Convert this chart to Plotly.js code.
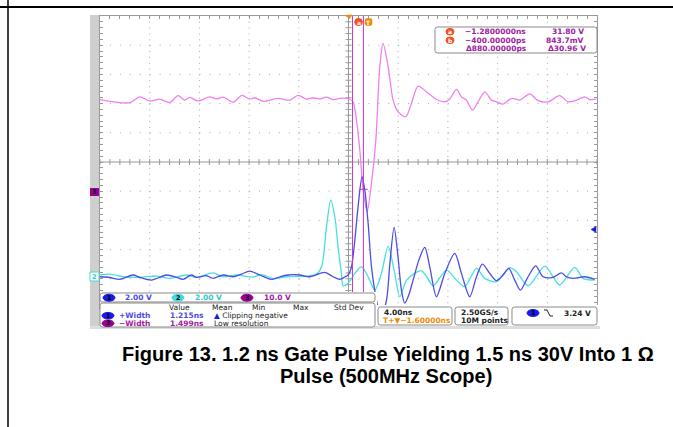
<!DOCTYPE html>
<html><head><meta charset="utf-8">
<script src="https://cdn.plot.ly/plotly-3.0.1.min.js"></script>
<style>html,body{margin:0;padding:0;background:#fff;}#chart{width:673px;height:427px;}</style>
</head><body><div id="chart"></div>
<script>
// ---- data (time in ns relative to trigger, volts) ----
const ch3_t = [-21.62,-19.21,-18.40,-17.59,-16.79,-15.98,-15.32,-14.78,-14.38,-13.71,-12.77,-12.23,-11.69,-10.89,-10.17,-9.55,-9.14,-8.47,-7.26,-6.33,-5.66,-4.98,-4.45,-3.91,-3.37,-2.84,-2.30,-2.04,-1.50,-1.23,-0.96,-0.69,-0.43,-0.10,0.25,0.60,0.92,1.18,1.59,1.99,2.39,3.01,3.47,4.00,4.68,5.48,6.15,6.55,7.09,7.49,7.89,8.38,8.83,9.37,9.91,10.31,10.84,11.52,12.19,12.99,13.66,14.46,15.40,16.07,16.75,17.42,17.82,18.36];
const ch3_v = [31.6,30.5,32.5,31.1,31.7,30.6,32.9,31.4,32.3,31.1,32.5,31.8,32.4,30.7,33.0,31.7,32.2,31.0,32.0,31.4,33.0,31.7,32.2,31.8,32.4,31.6,32.0,32.1,31.7,30.8,24.6,14.3,0.9,-6.8,3.0,17.7,42.8,50.8,42.8,31.4,27.4,25.7,30.3,36.2,34.2,31.6,30.8,31.8,35.1,32.5,31.4,28.0,30.8,34.2,31.4,30.8,30.0,32.0,31.4,33.5,31.2,30.8,32.9,30.8,31.4,32.5,31.6,31.7];
const ch1_t = [-21.62,-20.82,-20.01,-18.94,-18.40,-17.46,-16.25,-15.44,-14.91,-14.24,-13.84,-13.03,-12.50,-11.69,-10.89,-10.21,-9.55,-8.74,-7.80,-7.13,-6.46,-5.52,-4.72,-3.51,-2.84,-2.30,-1.90,-1.63,-1.36,-1.09,-0.83,-0.51,-0.29,-0.02,0.25,0.65,1.00,1.46,1.72,2.07,2.37,2.66,2.93,3.25,3.60,4.06,4.54,4.94,5.48,6.15,6.95,7.49,8.16,8.70,9.18,9.77,10.31,10.84,11.30,11.78,12.24,12.85,13.47,14.06,14.86,15.54,15.94,16.48,17.42,18.22];
const ch1_v = [0,-0.05,-0.18,0.12,-0.04,-0.23,0.12,-0.04,-0.18,0.12,-0.04,0.07,-0.11,0.12,0,0.18,0.39,0.12,-0.18,0,0.12,0.12,0,0.30,0,-0.18,-0.02,0.12,0.68,2.51,4.79,6.85,5.94,3.66,0.68,-1.60,-2.83,-1.60,0.80,3.38,1.49,-0.91,-1.80,-1.25,-0.23,1.14,2.01,0.68,-1.37,0.23,1.60,0.23,-1.37,0,0.87,0.23,-0.27,0.12,0.58,-0.23,-0.91,0,0.75,0,-0.04,0.27,0,-0.11,0,-0.18];
const ch2_t = [-21.62,-20.82,-19.74,-18.40,-17.06,-15.98,-14.64,-13.84,-12.50,-11.69,-10.62,-9.28,-8.60,-7.67,-6.60,-4.98,-4.18,-3.77,-3.37,-3.03,-2.70,-2.44,-2.17,-2.04,-1.63,-1.09,-0.56,-0.02,0.52,1.05,1.59,2.12,2.53,3.07,3.73,4.27,4.70,5.21,6.29,7.09,7.76,8.70,9.37,10.31,11.38,11.92,12.85,14.20,14.86,15.40,16.61,17.28,18.22];
const ch2_v = [0.12,0.18,0,-0.04,0.05,-0.11,0.12,-0.04,0.27,0,0.12,-0.02,0.14,-0.11,0,0.05,0.18,0.68,3.42,5.25,4.11,2.05,0.23,-0.62,-0.45,0.23,0.68,0,-0.91,0.23,2.10,0.23,-1.37,-0.23,0.23,0.41,0,-0.62,0.46,-0.23,-0.68,0.58,-0.11,-0.34,0.62,0.34,-0.62,0.73,0,-0.57,0.64,-0.11,-0.23];
// channel settings (V/div, position in div)
const ch1_scale = 2.0, ch1_pos = -3.93;
const ch2_scale = 2.0, ch2_pos = -3.93;
const ch3_scale = 10.0, ch3_pos = -1.02;
const cursor_a = -1.28, cursor_b = -0.40;
const h_pos = -1.6, ns_div = 4.0;
const titleLines = ["Figure 13. 1.2 ns Gate Pulse Yielding 1.5 ns 30V Into 1 Ω", "Pulse (500MHz Scope)"];

// ---- geometry ----
const W=673,H=427, X0=100, X1=597, Y0=16, Y1=308;
const px = x => (x-X0)/(X1-X0);
const py = y => (Y1-y)/(Y1-Y0);
const xmin = h_pos-5*ns_div, xmax = h_pos+5*ns_div;
const toDiv = (arr, s, p) => arr.map(v => v/s + p);

const C1='#4c4ce6', C2='#45e0e0', C3='#f07ef0', CUR='#cc33cc', PURP='#a020a0', GRID='#a8a8a8', ORG='#f08a00', RED='#f05020';

const traces = [
 {x:ch3_t, y:toDiv(ch3_v,ch3_scale,ch3_pos), mode:'lines', line:{color:C3,width:1.3,shape:'spline',smoothing:0.8}, hoverinfo:'skip'},
 {x:ch2_t, y:toDiv(ch2_v,ch2_scale,ch2_pos), mode:'lines', line:{color:C2,width:1.3,shape:'spline',smoothing:0.8}, hoverinfo:'skip'},
 {x:ch1_t, y:toDiv(ch1_v,ch1_scale,ch1_pos), mode:'lines', line:{color:C1,width:1.3,shape:'spline',smoothing:0.8}, hoverinfo:'skip'}
];

const shapes = [];
const annos = [];
// grid dotted lines
for (let k=-4;k<=4;k++){ if(k===0) continue;
  const xv = h_pos + k*ns_div;
  shapes.push({type:'line',xref:'x',yref:'y',x0:xv,x1:xv,y0:5,y1:-5,line:{color:GRID,width:1,dash:'1px,4.84px'},layer:'below'});
  shapes.push({type:'line',xref:'x',yref:'y',x0:xmin,x1:xmax,y0:k,y1:k,line:{color:GRID,width:1,dash:'1px,8.94px'},layer:'below'});
}
// center lines
shapes.push({type:'line',xref:'x',yref:'y',x0:h_pos,x1:h_pos,y0:-5,y1:5,line:{color:'#999',width:1},layer:'below'});
shapes.push({type:'line',xref:'x',yref:'y',x0:xmin,x1:xmax,y0:0,y1:0,line:{color:'#999',width:1},layer:'below'});
const tpx = ns_div/ (X1-X0) * 10; // ns per px
const dpy = 10/(Y1-Y0); // div per px
for (let i=-25;i<=25;i++){ const yv=i*0.2;
  shapes.push({type:'line',xref:'x',yref:'y',x0:h_pos-3*tpx,x1:h_pos+3*tpx,y0:yv,y1:yv,line:{color:'#999',width:1},layer:'below'});
}
for (let i=-25;i<=25;i++){ const xv=h_pos+i*0.8;
  shapes.push({type:'line',xref:'x',yref:'y',x0:xv,x1:xv,y0:-3*dpy,y1:3*dpy,line:{color:'#999',width:1},layer:'below'});
}
// cursors
[cursor_a,cursor_b].forEach(c=>shapes.push({type:'line',xref:'x',yref:'paper',x0:c,x1:c,y0:py(293),y1:1,line:{color:CUR,width:1}}));
// cursor b level mark
shapes.push({type:'line',xref:'x',yref:'y',x0:cursor_b-0.35,x1:cursor_b+0.35,y0:0.0844+ch3_pos,y1:0.0844+ch3_pos,line:{color:CUR,width:1}});

// left gray strip
shapes.push({type:'rect',xref:'paper',yref:'paper',x0:px(90),x1:px(100),y0:py(329),y1:py(15),fillcolor:'#cfcfcf',line:{width:0},layer:'below'});
// page frame
shapes.push({type:'line',xref:'paper',yref:'paper',x0:px(0),x1:px(673),y0:py(7),y1:py(7),line:{color:'#000',width:2}});
shapes.push({type:'line',xref:'paper',yref:'paper',x0:px(8),x1:px(8),y0:py(0),y1:py(427),line:{color:'#000',width:1.5}});

function rr(x0,y0,x1,y1,r){ // rounded rect in pixel coords -> paper path
  const P=(x,y)=>px(x).toFixed(5)+','+py(y).toFixed(5);
  return 'M'+P(x0+r,y0)+' L'+P(x1-r,y0)+' Q'+P(x1,y0)+' '+P(x1,y0+r)+' L'+P(x1,y1-r)+' Q'+P(x1,y1)+' '+P(x1-r,y1)+
   ' L'+P(x0+r,y1)+' Q'+P(x0,y1)+' '+P(x0,y1-r)+' L'+P(x0,y0+r)+' Q'+P(x0,y0)+' '+P(x0+r,y0)+' Z';
}
function box(x0,y0,x1,y1,fill){ shapes.push({type:'path',xref:'paper',yref:'paper',path:rr(x0,y0,x1,y1,2.5),fillcolor:fill||'#fff',line:{color:'#8a8a8a',width:1}}); }
function rect(x0,y0,x1,y1,fill){ shapes.push({type:'rect',xref:'paper',yref:'paper',x0:px(x0),x1:px(x1),y0:py(y1),y1:py(y0),fillcolor:fill,line:{width:0}}); }
function oval(cx,cy,rx,ry,fill,stroke){ shapes.push({type:'circle',xref:'paper',yref:'paper',x0:px(cx-rx),x1:px(cx+rx),y0:py(cy+ry),y1:py(cy-ry),fillcolor:fill,line:{color:stroke||fill,width:1}}); }
function txt(x,y,t,color,anchor,size,fam){ annos.push({xref:'paper',yref:'paper',x:px(x),y:py(y),text:t,showarrow:false,xanchor:anchor||'left',yanchor:'middle',font:{family:fam||'DejaVu Sans, sans-serif',size:size||7.5,color:color||'#222'}}); }

// bottom readout area
rect(100,292,377,329,'#ffffff');
rect(373,305,600,329,'#ffffff');
rect(90,326,600,329,'#dedede');
box(100,293,375,302);
box(100,303,375,327);
box(378,307,452,325);
box(455,307,508,325);
box(512,307,597,325);
// row 1
oval(109,297.7,6,3.5,'#1a1ae6'); txt(109,297.8,'<b>1</b>','#000','center',6.5);
txt(123,297.8,'<b>2.00 V</b>',C1);
oval(178,297.7,6,3.5,'#3fdcdc'); txt(178,297.8,'<b>2</b>','#000','center',6.5);
txt(193,297.8,'<b>2.00 V</b>','#30c8c8');
oval(247,297.7,6,3.5,'#990099'); txt(247,297.8,'<b>3</b>','#000','center',6.5);
txt(262,297.8,'<b>10.0 V</b>',PURP);
// row 2 table
txt(179,307.5,'Value','#222','center'); txt(222,307.5,'Mean','#222','center'); txt(259,307.5,'Min','#222','center');
txt(301,307.5,'Max','#222','center'); txt(349,307.5,'Std Dev','#222','center');
oval(108,315.7,6,3.3,'#1a1ae6'); txt(108,315.8,'<b>1</b>','#000','center',6.5);
txt(117,315.8,'<b>+Width</b>',C1); txt(168,315.8,'<b>1.215ns</b>',C1);
txt(212,315.8,'<span style="color:#1a1ae6">▲</span> Clipping negative','#222');
oval(108,323.3,6,3.3,'#990099'); txt(108,323.4,'<b>3</b>','#000','center',6.5);
txt(117,323.4,'<b>−Width</b>',PURP); txt(168,323.4,'<b>1.499ns</b>',PURP);
txt(212,323.4,'Low resolution','#222');
// right boxes
txt(382,312.5,'<b>4.00ns</b>','#222');
txt(381,320.5,'<b>T</b><b>+▼−1.60000ns</b>',ORG);
txt(459,312.5,'<b>2.50GS/s</b>','#222');
txt(459,320.5,'<b>10M points</b>','#222');
oval(533,313,6,3.5,'#1a1ae6'); txt(533,313.1,'<b>1</b>','#000','center',6.5);
shapes.push({type:'path',xref:'paper',yref:'paper',path:'M'+px(544)+','+py(310)+' L'+px(547)+','+py(310)+' L'+px(550)+','+py(316)+' L'+px(553)+','+py(316),line:{color:'#222',width:1}});
txt(593,313,'<b>3.24 V</b>','#222','right');

// cursor readout box (top right)
box(435,27,597,53);
oval(450,31.7,4,3.3,RED); txt(450,31.8,'<b>a</b>','#fff','center',6);
oval(450,40.3,4,3.3,RED); txt(450,40.4,'<b>b</b>','#fff','center',6);
txt(463,31.8,'<b>−1.2800000ns</b>',PURP); txt(586,31.8,'<b>31.80 V</b>',PURP,'right');
txt(463,40.4,'<b>−400.00000ps</b>',PURP); txt(586,40.4,'<b>843.7mV</b>',PURP,'right');
txt(464,48.8,'<b>Δ880.00000ps</b>',PURP); txt(588,48.8,'<b>Δ30.96 V</b>',PURP,'right');

// top markers
shapes.push({type:'path',xref:'paper',yref:'paper',path:'M'+px(346)+','+py(15)+' L'+px(352)+','+py(15)+' L'+px(349)+','+py(19)+' Z',fillcolor:ORG,line:{color:ORG,width:0.5}});
oval(358.5,22,3.8,3.6,RED); txt(358.5,22.1,'<b>a</b>','#fff','center',6);
shapes.push({type:'path',xref:'paper',yref:'paper',path:rr(365,18.5,372,25.5,1.5),fillcolor:ORG,line:{color:ORG,width:0.5}});
txt(368.5,22.1,'<b>T</b>','#fff','center',6);
// ground markers
shapes.push({type:'rect',xref:'paper',yref:'paper',x0:px(90),x1:px(99),y0:py(196),y1:py(188),fillcolor:'#990099',line:{width:0}});
txt(94.5,192,'<b>3</b>','#000','center',6.5);
shapes.push({type:'rect',xref:'paper',yref:'paper',x0:px(90),x1:px(99),y0:py(281),y1:py(272),fillcolor:'#ffffff',line:{color:'#3fdcdc',width:1}});
txt(94.5,276.7,'<b>2</b>','#30c8c8','center',6.5);
// trigger level arrow
shapes.push({type:'path',xref:'paper',yref:'paper',path:'M'+px(591)+','+py(229.4)+' L'+px(596)+','+py(226.4)+' L'+px(596)+','+py(232.4)+' Z',fillcolor:'#1a1ae6',line:{color:'#1a1ae6',width:0.5}});

// caption
const capFont = {family:'Liberation Sans, Arial, sans-serif',size:20,color:'#000'};
annos.push({xref:'paper',yref:'paper',x:px(388),y:py(354),text:'<b>'+titleLines[0]+'</b>',showarrow:false,xanchor:'center',yanchor:'middle',font:capFont});
annos.push({xref:'paper',yref:'paper',x:px(386),y:py(376),text:'<b>'+titleLines[1]+'</b>',showarrow:false,xanchor:'center',yanchor:'middle',font:capFont});

const layout = {
  width:W, height:H, margin:{l:X0,r:W-X1,t:Y0,b:H-Y1,pad:0},
  paper_bgcolor:'#fff', plot_bgcolor:'#fff', showlegend:false,
  xaxis:{range:[xmin,xmax],showgrid:false,zeroline:false,showticklabels:false,showline:true,linecolor:'#999',linewidth:1,mirror:'ticks',ticks:'inside',ticklen:3,tickcolor:'#999',tick0:h_pos,dtick:0.8,fixedrange:true},
  yaxis:{range:[-5,5],showgrid:false,zeroline:false,showticklabels:false,showline:true,linecolor:'#999',linewidth:1,mirror:'ticks',ticks:'inside',ticklen:3,tickcolor:'#999',tick0:0,dtick:0.2,fixedrange:true},
  shapes:shapes, annotations:annos
};
Plotly.newPlot('chart', traces, layout, {staticPlot:true, displayModeBar:false});
</script></body></html>
